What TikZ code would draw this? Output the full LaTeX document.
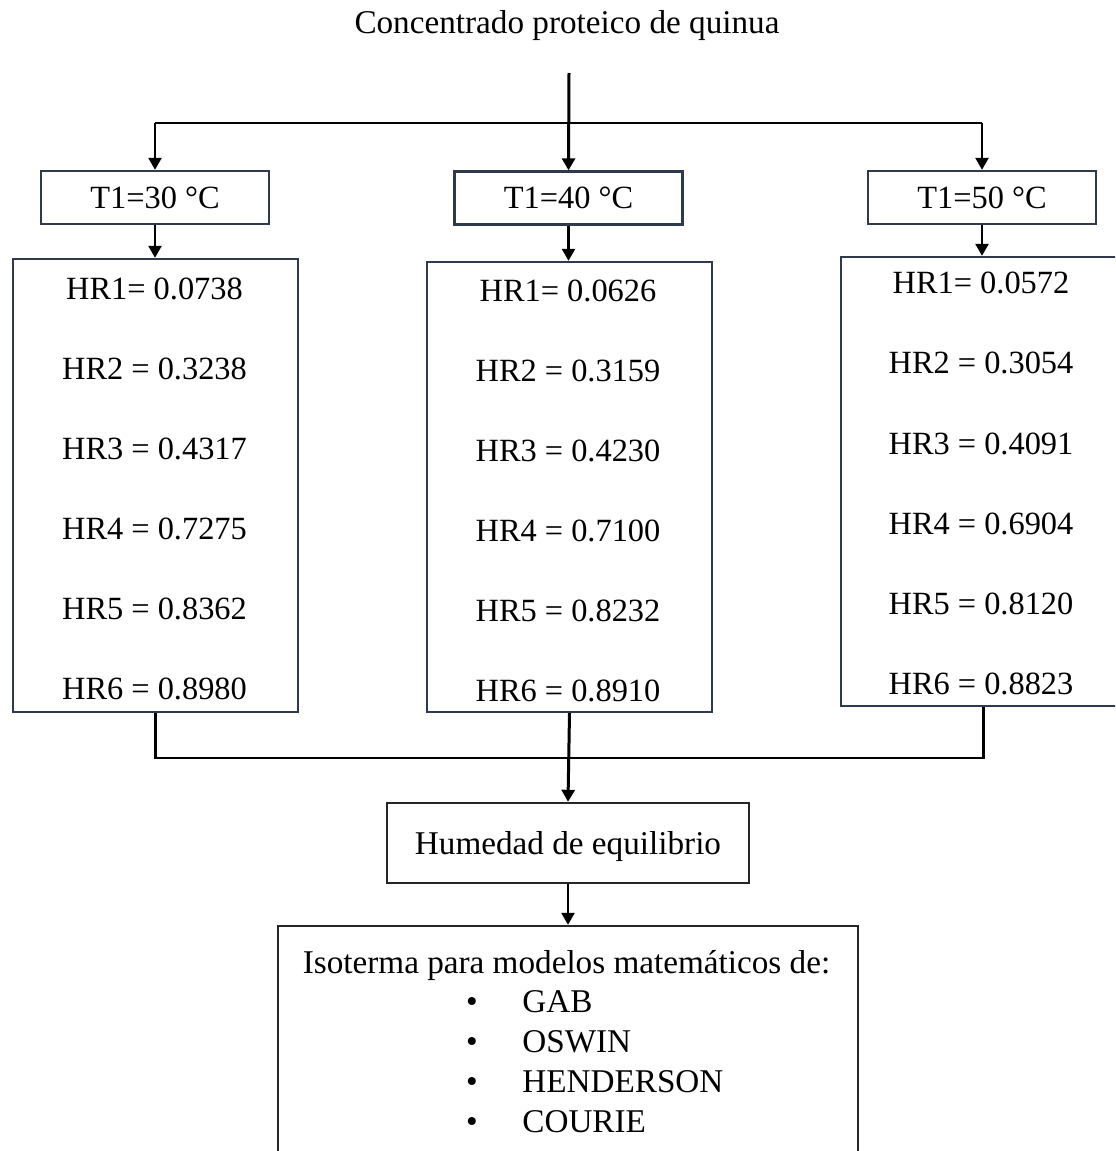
\documentclass[tikz,border=0pt]{standalone}
\usepackage{fontspec}
\setmainfont{Liberation Serif}
\usetikzlibrary{arrows.meta}
\definecolor{boxline}{RGB}{47,58,79}

\begin{document}
\begin{tikzpicture}[x=0.5pt,y=-0.5pt,
	txt/.style={font=\fontsize{16.2}{19}\selectfont,inner sep=0pt},
	bigtxt/.style={font=\fontsize{16.6}{19}\selectfont,inner sep=0pt},
	tbox/.style={txt,draw=boxline,line width=1.2pt,minimum width=114pt,minimum height=26.5pt},
	hrbox/.style={draw=boxline,line width=1.2pt,minimum width=142.5pt},
	endbox/.style={draw=black!85,line width=1.2pt},
	arr/.style={-{Triangle[width=6.5pt,length=6pt]},line width=1.25pt}]
	\useasboundingbox (0,0) rectangle (1115,1151);
	\clip (0,0) rectangle (1115,1151);
	\node[bigtxt,anchor=base] (conc) at (567,33) {Concentrado proteico de quinua};
	\coordinate (top) at (569,73);
	\coordinate (split) at (569,123);
	\coordinate (merge) at (569,758);
	\node[tbox] (t30) at (155,197.5) {T1=30 °C};
	\node[tbox] (t40) at (568.5,198) {T1=40 °C};
	\node[tbox] (t50) at (982,197.5) {T1=50 °C};
	\node[hrbox,minimum height=226.5pt] (hr30) at (155.5,485.5) {};
	\node[hrbox,minimum height=225pt] (hr40) at (569.5,487) {};
	\node[hrbox,minimum height=224.5pt] (hr50) at (983.5,481.5) {};
	\foreach \s [count=\i] in {HR1= 0.0738,HR2 = 0.3238,HR3 = 0.4317,HR4 = 0.7275,HR5 = 0.8362,HR6 = 0.8980}
		\node[txt] at (154.5,209+80*\i) {\s};
	\foreach \s [count=\i] in {HR1= 0.0626,HR2 = 0.3159,HR3 = 0.4230,HR4 = 0.7100,HR5 = 0.8232,HR6 = 0.8910}
		\node[txt] at (568,211+80*\i) {\s};
	\foreach \s [count=\i] in {HR1= 0.0572,HR2 = 0.3054,HR3 = 0.4091,HR4 = 0.6904,HR5 = 0.8120,HR6 = 0.8823}
		\node[txt] at (981,203+80.2*\i) {\s};
	\node[bigtxt,endbox,text depth=0pt,minimum width=181pt,minimum height=40pt] (hum) at (568,843) {Humedad de equilibrio};
	\node[endbox,minimum width=290pt,minimum height=127pt] (iso) at (568,1053) {};
	\node[bigtxt,anchor=base] (isot) at (566.5,973) {Isoterma para modelos matemáticos de:};
	\foreach \m [count=\i] in {GAB,OSWIN,HENDERSON,COURIE} {
		\node[bigtxt,anchor=base] at (472,972+40*\i) {\textbullet};
		\node[bigtxt,anchor=base west] at (522,972+40*\i) {\m};
	}
	\draw[arr,line width=1.5pt] (top) -- (t40.north);
	\draw[line width=1.25pt] (t30.north |- split) -- (t50.north |- split);
	\draw[arr] (t30.north |- split) -- (t30.north);
	\draw[arr] (t50.north |- split) -- (t50.north);
	\draw[arr] (t30.south) -- (t30.south |- hr30.north);
	\draw[arr] (t40.south) -- (t40.south |- hr40.north);
	\draw[arr] (t50.south) -- (t50.south |- hr50.north);
	\draw[line width=1.25pt] (hr30.south) |- (merge) -| (hr50.south);
	\draw[arr,line width=1.5pt] (hr40.south) -- (hum.north);
	\draw[arr] (hum.south) -- (iso.north);
\end{tikzpicture}
\end{document}
